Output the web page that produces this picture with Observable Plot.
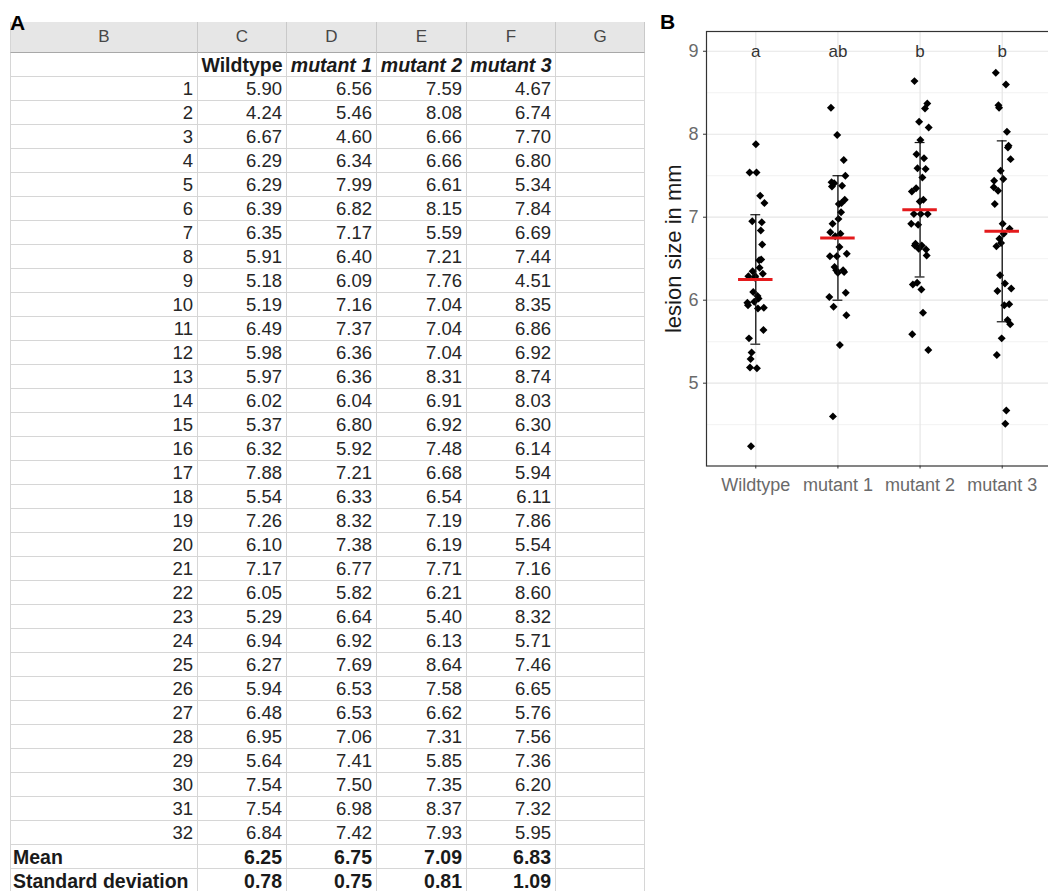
<!DOCTYPE html>
<html>
<head>
<meta charset="utf-8">
<script src="https://cdn.jsdelivr.net/npm/d3@7"></script>
<script src="https://cdn.jsdelivr.net/npm/@observablehq/plot@0.6"></script>
<style>
  html, body { margin: 0; padding: 0; background: #fff; }
  body { width: 1048px; height: 891px; overflow: hidden; position: relative; font-family: "Liberation Sans", Arial, sans-serif; }
  .panel-label { position: absolute; font-weight: bold; font-size: 21px; line-height: 21px; color: #000; z-index: 5; }
  #tbl { position: absolute; left: 10px; top: 22px; border-collapse: separate; border-spacing: 0; table-layout: fixed; width: 635px; }
  #tbl td, #tbl th { padding: 0 4px 0 0; box-sizing: border-box; white-space: nowrap; overflow: hidden;
    border-right: 1px solid #d6d6d6; border-bottom: 1px solid #d6d6d6; text-align: right; color: #262626;
    font-size: 18.5px; font-weight: normal; line-height: 20px; }
  #tbl td:first-child, #tbl th:first-child { border-left: 1px solid #d6d6d6; }
  #tbl tr { height: 24px; }
  #tbl tr.letters { height: 31px; }
  #tbl tr.letters th { background: #e6e6e6; text-align: center; color: #474747; font-size: 17px; padding: 0;
    border-right: 1px solid #c9c9c9; border-bottom: 1px solid #a8a8a8; }
  #tbl tr.names td { font-weight: bold; font-size: 19.5px; text-align: center; padding: 0; color: #1a1a1a; }
  #tbl tr.names td.it { font-style: italic; }
  #tbl tr.stat td { font-weight: bold; font-size: 19.5px; color: #1a1a1a; }
  #tbl tr.stat td:first-child { text-align: left; padding-left: 2px; }
  #chartB { position: absolute; left: 646px; top: 0px; }
</style>
</head>
<body>
<div class="panel-label" style="left:10px; top:12px;">A</div>
<div class="panel-label" style="left:660px; top:11px;">B</div>
<table id="tbl"></table>
<div id="chartB"></div>
<script>
// ---------------- data ----------------
const colLetters = ["B", "C", "D", "E", "F", "G"];
const groups = ["Wildtype", "mutant 1", "mutant 2", "mutant 3"];
const wildtype = [5.90,4.24,6.67,6.29,6.29,6.39,6.35,5.91,5.18,5.19,6.49,5.98,5.97,6.02,5.37,6.32,7.88,5.54,7.26,6.10,7.17,6.05,5.29,6.94,6.27,5.94,6.48,6.95,5.64,7.54,7.54,6.84];
const mutant1  = [6.56,5.46,4.60,6.34,7.99,6.82,7.17,6.40,6.09,7.16,7.37,6.36,6.36,6.04,6.80,5.92,7.21,6.33,8.32,7.38,6.77,5.82,6.64,6.92,7.69,6.53,6.53,7.06,7.41,7.50,6.98,7.42];
const mutant2  = [7.59,8.08,6.66,6.66,6.61,8.15,5.59,7.21,7.76,7.04,7.04,7.04,8.31,6.91,6.92,7.48,6.68,6.54,7.19,6.19,7.71,6.21,5.40,6.13,8.64,7.58,6.62,7.31,5.85,7.35,8.37,7.93];
const mutant3  = [4.67,6.74,7.70,6.80,5.34,7.84,6.69,7.44,4.51,8.35,6.86,6.92,8.74,8.03,6.30,6.14,5.94,6.11,7.86,5.54,7.16,8.60,8.32,5.71,7.46,6.65,5.76,7.56,7.36,6.20,7.32,5.95];
const means = [6.25, 6.75, 7.09, 6.83];
const sds = [0.78, 0.75, 0.81, 1.09];
const statLabels = ["Mean", "Standard deviation"];
const letters = ["a", "ab", "b", "b"];
const letterLevel = 9;
const yTicks = [5, 6, 7, 8, 9];
const yMinorTicks = [4.5, 5.5, 6.5, 7.5, 8.5];
const yLabel = "lesion size in mm";

const series = [wildtype, mutant1, mutant2, mutant3];

// ---------------- panel A: spreadsheet ----------------
(function buildTable() {
  const tbl = document.getElementById("tbl");
  const colW = [188, 89, 90, 90, 89, 89];
  const cg = document.createElement("colgroup");
  colW.forEach(w => { const c = document.createElement("col"); c.style.width = w + "px"; cg.appendChild(c); });
  tbl.appendChild(cg);
  const tb = document.createElement("tbody");
  let tr = document.createElement("tr"); tr.className = "letters";
  colLetters.forEach(l => { const th = document.createElement("th"); th.textContent = l; tr.appendChild(th); });
  tb.appendChild(tr);
  tr = document.createElement("tr"); tr.className = "names";
  tr.appendChild(document.createElement("td"));
  groups.forEach((g, i) => { const td = document.createElement("td"); td.textContent = g; if (i > 0) td.className = "it"; tr.appendChild(td); });
  tr.appendChild(document.createElement("td"));
  tb.appendChild(tr);
  for (let r = 0; r < wildtype.length; r++) {
    tr = document.createElement("tr");
    const td0 = document.createElement("td"); td0.textContent = String(r + 1); tr.appendChild(td0);
    series.forEach(s => { const td = document.createElement("td"); td.textContent = s[r].toFixed(2); tr.appendChild(td); });
    tr.appendChild(document.createElement("td"));
    tb.appendChild(tr);
  }
  [means, sds].forEach((arr, k) => {
    tr = document.createElement("tr"); tr.className = "stat";
    const td0 = document.createElement("td"); td0.textContent = statLabels[k]; tr.appendChild(td0);
    arr.forEach(v => { const td = document.createElement("td"); td.textContent = v.toFixed(2); tr.appendChild(td); });
    tr.appendChild(document.createElement("td"));
    tb.appendChild(tr);
  });
  tbl.appendChild(tb);
})();

// ---------------- panel B: dot plot ----------------
const points = [];
series.forEach((s, gi) => s.forEach((v, i) => {
  // deterministic small horizontal jitter (low-discrepancy sequence)
  const jit = (((i + 1) * 0.6180339887 + gi * 0.37) % 1 - 0.5) * 0.22;
  points.push({gi, jit, value: v});
}));
const stats = groups.map((g, gi) => ({gi, group: g, mean: means[gi], sd: sds[gi], letter: letters[gi]}));

const capHalf = 0.06, barHalf = 0.21;

const chart = Plot.plot({
  width: 415,
  height: 500,
  marginLeft: 60,
  marginRight: 10,
  marginTop: 31,
  marginBottom: 34.5,
  style: {background: "transparent", maxWidth: "none", overflow: "visible", fontFamily: "'Liberation Sans', Arial, sans-serif"},
  x: {domain: [-0.6, 3.6]},
  y: {domain: [4.002, 9.238]},
  marks: [
    Plot.gridY({ticks: yMinorTicks, stroke: "#ececec", strokeOpacity: 1, strokeWidth: 0.7}),
    Plot.gridY({ticks: yTicks, stroke: "#e6e6e6", strokeOpacity: 1, strokeWidth: 1.2}),
    Plot.gridX({ticks: [0, 1, 2, 3], stroke: "#e6e6e6", strokeOpacity: 1, strokeWidth: 1.2}),
    Plot.axisY({ticks: yTicks, tickFormat: d => String(d), tickSize: 3, tickPadding: 5, fontSize: 18, fill: "#6a6a6a", stroke: "#333", label: null}),
    Plot.axisX({ticks: [0, 1, 2, 3], tickFormat: i => groups[i], tickSize: 3, tickPadding: 9, fontSize: 18, fill: "#6a6a6a", stroke: "#333", label: null}),
    Plot.text([yLabel], {text: d => d, frameAnchor: "left", textAnchor: "middle", rotate: -90, dx: -33, fontSize: 22, fill: "#1a1a1a"}),
    Plot.dot(points, {x: d => d.gi + d.jit, y: "value", symbol: "diamond2", r: 3.6, fill: "#000", stroke: "none"}),
    Plot.ruleX(stats, {x: "gi", y1: d => d.mean - d.sd, y2: d => d.mean + d.sd, stroke: "#111", strokeWidth: 1.3}),
    Plot.ruleY(stats, {y: d => d.mean + d.sd, x1: d => d.gi - capHalf, x2: d => d.gi + capHalf, stroke: "#111", strokeWidth: 1.2}),
    Plot.ruleY(stats, {y: d => d.mean - d.sd, x1: d => d.gi - capHalf, x2: d => d.gi + capHalf, stroke: "#111", strokeWidth: 1.2}),
    Plot.ruleY(stats, {y: "mean", x1: d => d.gi - barHalf, x2: d => d.gi + barHalf, stroke: "#e41a1c", strokeWidth: 3}),
    Plot.text(stats, {x: "gi", y: () => letterLevel, text: "letter", fontSize: 17, fill: "#333"}),
    Plot.frame({stroke: "#333", strokeWidth: 1.2})
  ]
});
document.getElementById("chartB").appendChild(chart);
</script>
</body>
</html>
